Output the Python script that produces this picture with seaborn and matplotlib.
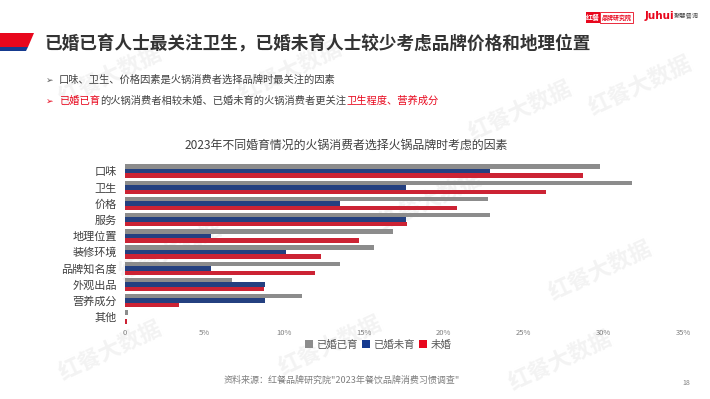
import matplotlib
matplotlib.use('Agg')
import matplotlib.pyplot as plt
from matplotlib.patches import Polygon, Rectangle
import seaborn as sns
import pandas as pd

# 数据（从图中读取的估计值，单位 %）
factors = ['口味', '卫生', '价格', '服务', '地理位置', '装修环境',
           '品牌知名度', '外观出品', '营养成分', '其他']
married_kids = [29.8, 31.8, 22.8, 22.9, 16.8, 15.6, 13.5, 6.7, 11.1, 0.2]
married_nokids = [22.9, 17.6, 13.5, 17.6, 5.4, 10.1, 5.4, 8.8, 8.8, 0.0]
unmarried = [28.7, 26.4, 20.8, 17.7, 14.7, 12.3, 11.9, 8.7, 3.4, 0.1]
groups = ['已婚已育', '已婚未育', '未婚']
colors = ['#8c8c8c', '#153a8f', '#e8071d']
xticks = [0, 5, 10, 15, 20, 25, 30, 35]
xticklabels = ['0', '5%', '10%', '15%', '20%', '25%', '30%', '35%']

df = pd.DataFrame({
    'factor': factors * 3,
    'group': [groups[0]] * 10 + [groups[1]] * 10 + [groups[2]] * 10,
    'value': married_kids + married_nokids + unmarried,
})

sns.set_theme(style='white')
plt.rcParams['font.family'] = ['Noto Sans CJK SC', 'DejaVu Sans']

W, H = 710, 399
fig = plt.figure(figsize=(7.1, 3.99), dpi=100)


def px(x, y):
    return x / W, 1 - y / H


# 水印（很淡，放在最底层）
for (wx, wy) in [(110, 75), (290, 70), (520, 110), (640, 85), (170, 250),
                 (430, 200), (600, 270), (330, 345), (110, 350), (560, 360)]:
    fig.text(*px(wx, wy), '红餐大数据', fontsize=16, color='#f3f3f3',
             rotation=25, ha='center', va='center', fontweight='bold', zorder=-5)

# 标题色块
fig.patches.append(Polygon([px(0, 33), px(34, 33), px(28, 47), px(0, 47)],
                           closed=True, transform=fig.transFigure,
                           facecolor='#e8071d', edgecolor='none'))
fig.patches.append(Polygon([px(0, 47), px(28, 47), px(26, 51), px(0, 51)],
                           closed=True, transform=fig.transFigure,
                           facecolor='#153a8f', edgecolor='none'))
fig.text(*px(44, 44), '已婚已育人士最关注卫生，已婚未育人士较少考虑品牌价格和地理位置',
         fontsize=12.7, fontweight='bold', color='#333333', ha='left', va='center')

# 右上角标识
fig.patches.append(Rectangle(px(586, 23), 14 / W, 11 / H, transform=fig.transFigure,
                             facecolor='#e8071d', edgecolor='none'))
fig.patches.append(Rectangle(px(600, 23), 33 / W, 11 / H, transform=fig.transFigure,
                             facecolor='white', edgecolor='#e8071d', linewidth=0.6))
fig.text(*px(593, 17.5), '红餐', fontsize=5, color='white', ha='center', va='center',
         fontweight='bold')
fig.text(*px(616.5, 17.5), '品牌研究院', fontsize=4.3, color='#e8071d', ha='center',
         va='center', fontweight='bold')
fig.text(*px(645, 16), 'Juhui', fontsize=7.5, color='#e8071d', ha='left', va='center',
         fontweight='bold', family='DejaVu Sans')
fig.text(*px(674, 16), '聚慧餐调', fontsize=4.5, color='#555555', ha='left', va='center')

# 要点文字（多色拼接）
fig.canvas.draw()
renderer = fig.canvas.get_renderer()


def colored_line(x0, y0, pieces, size=7.4):
    x = x0
    for s, c in pieces:
        t = fig.text(x / W, 1 - y0 / H, s, fontsize=size, color=c, ha='left', va='center')
        bb = t.get_window_extent(renderer=renderer)
        x += bb.width


colored_line(46, 80, [('➢', '#595959')], size=6.5)
colored_line(59, 80, [('口味、卫生、价格因素是火锅消费者选择品牌时最关注的因素', '#404040')])
colored_line(46, 101, [('➢', '#e8071d')], size=6.5)
colored_line(59, 101, [('已婚已育', '#e8071d'),
                       ('的火锅消费者相较未婚、已婚未育的火锅消费者更关注', '#404040'),
                       ('卫生程度、营养成分', '#e8071d')])

# 图表
ax = fig.add_axes([125 / W, 1 - 325 / H, (683 - 125) / W, (325 - 163) / H])
ax.set_zorder(1)
ax.patch.set_alpha(0)
sns.barplot(data=df, y='factor', x='value', hue='group', hue_order=groups,
            order=factors, palette=colors, orient='h', width=0.82,
            linewidth=0, ax=ax, legend=False)
ax.set_xlim(0, 35)
ax.set_xticks(xticks)
ax.set_xticklabels(xticklabels, fontsize=5.5, color='#7f7f7f')
ax.tick_params(axis='y', labelsize=8, labelcolor='#404040', length=0, pad=6)
ax.tick_params(axis='x', length=0, pad=3)
ax.set_xlabel('')
ax.set_ylabel('')
for s in ax.spines.values():
    s.set_visible(False)
ax.grid(False)

fig.text(*px(346, 145), '2023年不同婚育情况的火锅消费者选择火锅品牌时考虑的因素',
         fontsize=8.6, color='#404040', ha='center', va='center')

# 图例
handles = [Rectangle((0, 0), 1, 1, facecolor=c, edgecolor='none') for c in colors]
fig.legend(handles, groups, loc='center', bbox_to_anchor=px(378, 345), ncol=3,
           frameon=False, fontsize=7.5, labelcolor='#595959', handlelength=0.8,
           handleheight=0.8, handletextpad=0.3, columnspacing=0.4)

fig.text(*px(342, 380), '资料来源：红餐品牌研究院"2023年餐饮品牌消费习惯调查"',
         fontsize=6.5, color='#7f7f7f', ha='center', va='center')
fig.text(*px(686, 383), '18', fontsize=5, color='#7f7f7f', ha='center', va='center')

fig.savefig('out.png', dpi=100)
